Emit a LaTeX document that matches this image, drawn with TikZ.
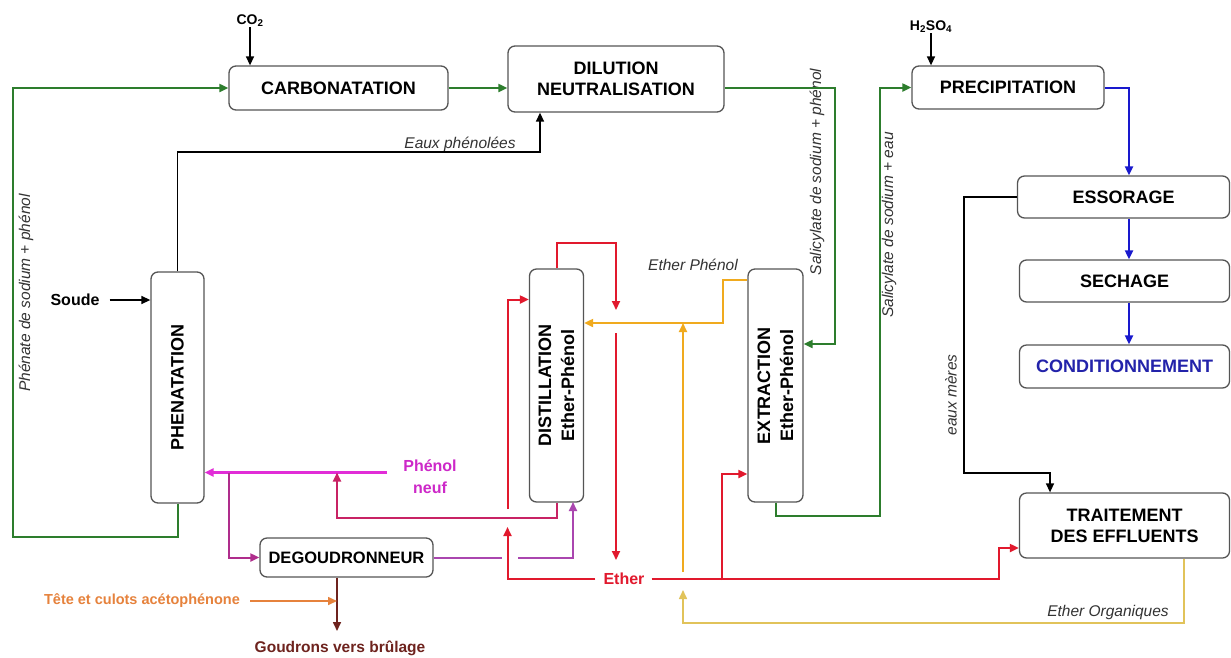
\documentclass[tikz,border=0pt]{standalone}
\usepackage{fontspec}
\setmainfont{Liberation Sans}
\usetikzlibrary{arrows.meta,calc}
\definecolor{grn}{RGB}{45,125,45}
\definecolor{blu}{RGB}{25,25,205}
\definecolor{condtxt}{RGB}{35,35,170}
\definecolor{redc}{RGB}{225,25,45}
\definecolor{magc}{RGB}{225,45,215}
\definecolor{magtxt}{RGB}{205,40,200}
\definecolor{crim}{RGB}{200,35,100}
\definecolor{purc}{RGB}{175,45,140}
\definecolor{purd}{RGB}{170,70,175}
\definecolor{orng}{RGB}{240,170,30}
\definecolor{orngb}{RGB}{225,195,90}
\definecolor{tetec}{RGB}{230,130,60}
\definecolor{brn}{RGB}{110,35,30}
\definecolor{boxc}{RGB}{85,85,85}
\begin{document}
\begin{tikzpicture}[x=1pt,y=-1pt,
  >={Triangle[length=9pt,width=8pt]},
  box/.style={draw=boxc,line width=1.3pt,rounded corners=7pt,fill=white,align=center,
    inner sep=0pt,font=\bfseries\fontsize{18}{21}\selectfont},
  vtxt/.style={rotate=90,align=center,font=\bfseries\fontsize{18}{23}\selectfont},
  ilbl/.style={font=\itshape\fontsize{15.5}{18}\selectfont,inner sep=0pt,text=black!80},
  blbl/.style={font=\bfseries\fontsize{16}{19}\selectfont,inner sep=0pt},
  slbl/.style={font=\bfseries\fontsize{14}{16}\selectfont,inner sep=0pt},
  blk/.style={draw=black,line width=1.4pt},
  gln/.style={draw=grn,line width=2pt},
  bln/.style={draw=blu,line width=2pt},
  rln/.style={draw=redc,line width=2pt},
  mln/.style={draw=magc,line width=3.2pt},
  cln/.style={draw=crim,line width=2pt},
  pln/.style={draw=purc,line width=2pt},
  qln/.style={draw=purd,line width=2pt},
  oln/.style={draw=orng,line width=2pt},
  obln/.style={draw=orngb,line width=1.6pt},
  tln/.style={draw=tetec,line width=1.6pt},
  brln/.style={draw=brn,line width=1.6pt}
]
\useasboundingbox (0,0) rectangle (1231,657);
\fill[white] (0,0) rectangle (1231,657);

% process boxes
\node[box,minimum width=219pt,minimum height=44pt] (carb) at (338.5,88) {CARBONATATION};
\node[box,minimum width=216pt,minimum height=66pt] (dil) at (616,79) {DILUTION\\NEUTRALISATION};
\node[box,minimum width=192pt,minimum height=43pt] (prec) at (1008,87.5) {PRECIPITATION};
\node[box,minimum width=212pt,minimum height=42pt] (ess) at (1123.5,197) {ESSORAGE};
\node[box,minimum width=210pt,minimum height=42pt] (sech) at (1124.5,281) {SECHAGE};
\node[box,minimum width=210pt,minimum height=43pt,text=condtxt] (cond) at (1124.5,366.5) {CONDITIONNEMENT};
\node[box,minimum width=210pt,minimum height=65pt] (trait) at (1124.5,525.5) {TRAITEMENT\\DES EFFLUENTS};
\node[box,minimum width=53pt,minimum height=231pt] (phen) at (177.5,387.5) {};
\node[vtxt] (phent) at (phen.center) {PHENATATION};
\node[box,minimum width=54pt,minimum height=233pt] (dist) at (556.5,385.5) {};
\node[vtxt] (distt) at (dist.center) {DISTILLATION\\Ether-Phénol};
\node[box,minimum width=55pt,minimum height=233pt] (extr) at (775.5,385.5) {};
\node[vtxt] (extrt) at (extr.center) {EXTRACTION\\Ether-Phénol};
\node[box,minimum width=173pt,minimum height=39pt,font=\bfseries\fontsize{16.5}{19}\selectfont] (degou) at (346.5,557.5) {DEGOUDRONNEUR};

% feed labels
\node[slbl] (co2) at (250,21) {CO\textsubscript{2}};
\node[slbl] (h2so4) at (931,27) {H\textsubscript{2}SO\textsubscript{4}};
\node[blbl] (soude) at (75,300) {Soude};
\node[blbl,text=magtxt,align=center,font=\bfseries\fontsize{16}{22}\selectfont] (pneuf) at (430,477) {Phénol\\neuf};
\node[blbl,text=redc] (eth) at (624,579) {Ether};
\node[blbl,text=brn,font=\bfseries\fontsize{15.5}{18}\selectfont] (goud) at (340,648) {Goudrons vers brûlage};
\node[blbl,text=tetec,font=\bfseries\fontsize{14.5}{17}\selectfont] (tete) at (142,601) {Tête et culots acétophénone};

% stream labels
\node[ilbl] (lep) at (460,144) {Eaux phénolées};
\node[ilbl,rotate=90] (lpsp) at (26,293) {Phénate de sodium + phénol};
\node[ilbl,rotate=90] (lssp) at (817,172) {Salicylate de sodium + phénol};
\node[ilbl,rotate=90] (lsse) at (889,225) {Salicylate de sodium + eau};
\node[ilbl,rotate=90] (lem) at (951,395) {eaux mères};
\node[ilbl] (leph) at (693,265) {Ether Phénol};
\node[ilbl] (leo) at (1108,612) {Ether Organiques};

% coordinates for bends
\coordinate (ep) at (540,152);
\coordinate (gl) at (13,537);
\coordinate (gr1) at (835,344);
\coordinate (gr2) at (880,516);
\coordinate (bx) at (1129,0);
\coordinate (em) at (964,473);
\coordinate (tx) at (1050,0);
\coordinate (pn) at (387,472.5);
\coordinate (mb) at (229,472.5);
\coordinate (cr) at (337,518);
\coordinate (dgl) at (502,557.5);
\coordinate (dgr) at (518,557.5);
\coordinate (dd) at (573,502);
\coordinate (gd) at (337,0);
\coordinate (ra) at (507.5,527);
\coordinate (rb) at (507.5,509);
\coordinate (rc) at (507.5,299.5);
\coordinate (rt) at (616,243);
\coordinate (rd) at (616,310);
\coordinate (re) at (616,333);
\coordinate (rf) at (999,548);
\coordinate (rg) at (722,580);
\coordinate (rh) at (722,474);
\coordinate (o1) at (723,280);
\coordinate (o2) at (723,323);
\coordinate (o3) at (683,572);
\coordinate (o5) at (1184,623);
\coordinate (o6) at (683,623);
\coordinate (o7) at (683,590);

% black connectors
\draw[blk,->] (co2.south) -- (co2.south |- carb.north);
\draw[blk,->] (h2so4.south) -- (h2so4.south |- prec.north);
\draw[blk,->,shorten <=10pt] (soude.east) -- (soude.east -| phen.west);
\draw[blk,->] (phen.north) |- (ep) -- (ep |- dil.south);
\draw[blk,->] (ess.west) -| (em) -| (tx |- trait.north);

% green connectors
\draw[gln,->] (phen.south) |- (gl) |- (carb.west);
\draw[gln,->] (carb.east) -- (carb.east -| dil.west);
\draw[gln,->] (dil.east |- carb.east) -| (gr1) -- (gr1 -| extr.east);
\draw[gln,->] (extr.south) |- (gr2) |- (prec.west);

% blue connectors
\draw[bln,->] (prec.east) -| (bx |- ess.north);
\draw[bln,->] (bx |- ess.south) -- (bx |- sech.north);
\draw[bln,->] (bx |- sech.south) -- (bx |- cond.north);

% phenol loop
\draw[mln,->] (pn) -- (pn -| phen.east);
\draw[pln,->] (mb) |- (degou.west);
\draw[cln,->] (dist.south) |- (cr) -- (cr |- pn);
\draw[qln] (degou.east) -- (dgl);
\draw[qln,->] (dgr) -| (dd);
\draw[brln,->] (gd |- degou.south) -- (337,631);
\draw[tln,->,shorten <=10pt] (tete.east) -- (gd |- tete.east);

% ether loop
\draw[rln,->,shorten <=8pt] (eth.west) -| (ra);
\draw[rln,->] (rb) -- (rc) -- (rc -| dist.west);
\draw[rln,->] (dist.north) |- (rt) -- (rd);
\draw[rln,->] (re) -- (616,560);
\draw[rln,->,shorten <=7pt] (eth.east) -| (rf) -- (rf -| trait.west);
\draw[rln,->] (rg) -- (rh) -- (rh -| extr.west);

% ether phenol / organics
\draw[oln,->] (extr.west |- o1) -- (o1) -- (o2) -- (o2 -| dist.east);
\draw[oln,->] (o3) -- (o3 |- o2);
\draw[obln,->] (trait.south -| o5) -- (o5) -- (o6) -- (o7);
\end{tikzpicture}
\end{document}
